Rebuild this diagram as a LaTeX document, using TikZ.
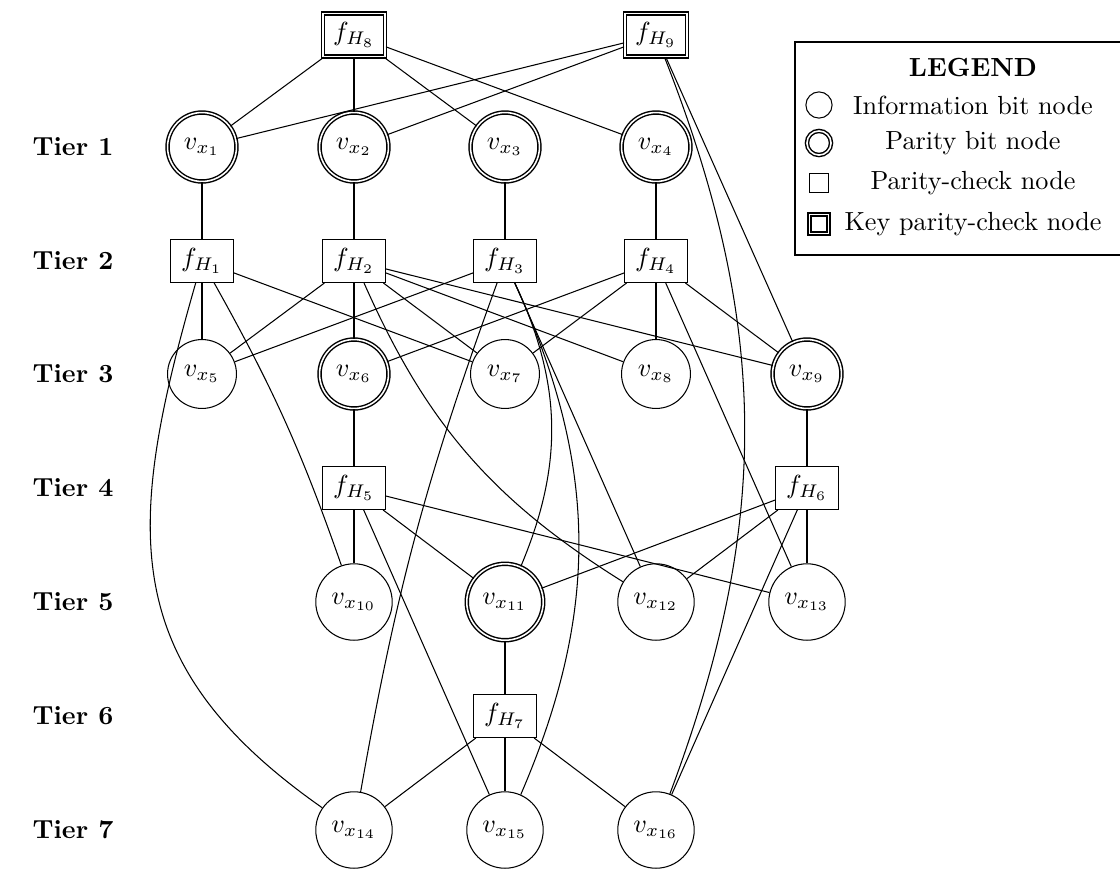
\documentclass[tikz,border=0pt]{standalone}
\usepackage{amsmath}
\begin{document}
\begin{tikzpicture}[x=0.3817pt,y=0.3817pt,
  info/.style={circle,draw,inner sep=4pt},
  parity/.style={circle,draw,double,line width=0.55pt,double distance=0.6pt,inner sep=4pt},
  check/.style={rectangle,draw,inner xsep=4pt,inner ysep=3pt,minimum height=16.4pt},
  keycheck/.style={check,double,line width=0.55pt,double distance=0.6pt},
  tier/.style={font=\bfseries},
  legtext/.style={anchor=center}]
\useasboundingbox (0,0) rectangle (1120,-869);

% tier labels
\foreach \i/\y in {1/147,2/261,3/374,4/488,5/602,6/716,7/830}
  \node[tier] (tier\i) at (73,-\y) {Tier \i};

% key parity-check nodes
\node[keycheck] (fH8) at (354,-35) {$f_{H_8}$};
\node[keycheck] (fH9) at (656,-35) {$f_{H_9}$};

% tier 1
\node[parity] (vx1) at (202,-147) {$v_{x_1}$};
\node[parity] (vx2) at (354,-147) {$v_{x_2}$};
\node[parity] (vx3) at (505,-147) {$v_{x_3}$};
\node[parity] (vx4) at (656,-147) {$v_{x_4}$};

% tier 2
\node[check] (fH1) at (202,-261) {$f_{H_1}$};
\node[check] (fH2) at (354,-261) {$f_{H_2}$};
\node[check] (fH3) at (505,-261) {$f_{H_3}$};
\node[check] (fH4) at (656,-261) {$f_{H_4}$};

% tier 3
\node[info]   (vx5) at (202,-374) {$v_{x_5}$};
\node[parity] (vx6) at (354,-374) {$v_{x_6}$};
\node[info]   (vx7) at (505,-374) {$v_{x_7}$};
\node[info]   (vx8) at (656,-374) {$v_{x_8}$};
\node[parity] (vx9) at (807,-374) {$v_{x_9}$};

% tier 4
\node[check] (fH5) at (354,-488) {$f_{H_5}$};
\node[check] (fH6) at (807,-488) {$f_{H_6}$};

% tier 5
\node[info]   (vx10) at (354,-602) {$v_{x_{10}}$};
\node[parity] (vx11) at (505,-602) {$v_{x_{11}}$};
\node[info]   (vx12) at (656,-602) {$v_{x_{12}}$};
\node[info]   (vx13) at (807,-602) {$v_{x_{13}}$};

% tier 6
\node[check] (fH7) at (505,-716) {$f_{H_7}$};

% tier 7
\node[info] (vx14) at (354,-830) {$v_{x_{14}}$};
\node[info] (vx15) at (505,-830) {$v_{x_{15}}$};
\node[info] (vx16) at (656,-830) {$v_{x_{16}}$};

% straight edges
\foreach \a/\b in {fH8/vx1,fH8/vx2,fH8/vx3,fH8/vx4,
                   fH9/vx1,fH9/vx2,fH9/vx9,
                   vx1/fH1,vx2/fH2,vx3/fH3,vx4/fH4,
                   fH1/vx5,fH1/vx7,
                   fH2/vx5,fH2/vx6,fH2/vx7,fH2/vx8,fH2/vx9,
                   fH3/vx5,fH3/vx12,
                   fH4/vx6,fH4/vx7,fH4/vx8,fH4/vx9,fH4/vx13,
                   vx6/fH5,fH5/vx10,fH5/vx11,fH5/vx13,fH5/vx15,
                   vx9/fH6,fH6/vx11,fH6/vx12,fH6/vx13,fH6/vx16,
                   vx11/fH7,fH7/vx14,fH7/vx15,fH7/vx16}
  \draw (\a) -- (\b);

% curved edges
\draw (fH9) to[bend left=21] (vx16);
\draw (fH1) to[bend left=5] (vx10);
\draw (fH1) to[out=-106,in=145,looseness=1.2] (vx14);
\draw (fH2) to[bend right=17] (vx12);
\draw (fH3) to[bend right=5] (vx14);
\draw (fH3) to[bend left=24] (vx11);
\draw (fH3) to[bend left=24] (vx15);

% legend
\draw (795,-42) rectangle (1130,-255);
\node[font=\bfseries] (lgtitle) at (973,-68) {LEGEND};
\node[info,inner sep=0pt,minimum size=10pt] (lg1) at (819,-105) {};
\node[parity,inner sep=0pt,minimum size=9.2pt] (lg2) at (819,-143) {};
\node[check,inner sep=0pt,minimum size=6.9pt] (lg3) at (819,-183) {};
\node[keycheck,inner sep=0pt,minimum size=7.3pt] (lg4) at (819,-224) {};
\node[legtext] (lt1) at (973,-105) {Information bit node};
\node[legtext] (lt2) at (973,-143) {Parity bit node};
\node[legtext] (lt3) at (973,-183) {Parity-check node};
\node[legtext] (lt4) at (973,-224) {Key parity-check node};
\end{tikzpicture}
\end{document}
